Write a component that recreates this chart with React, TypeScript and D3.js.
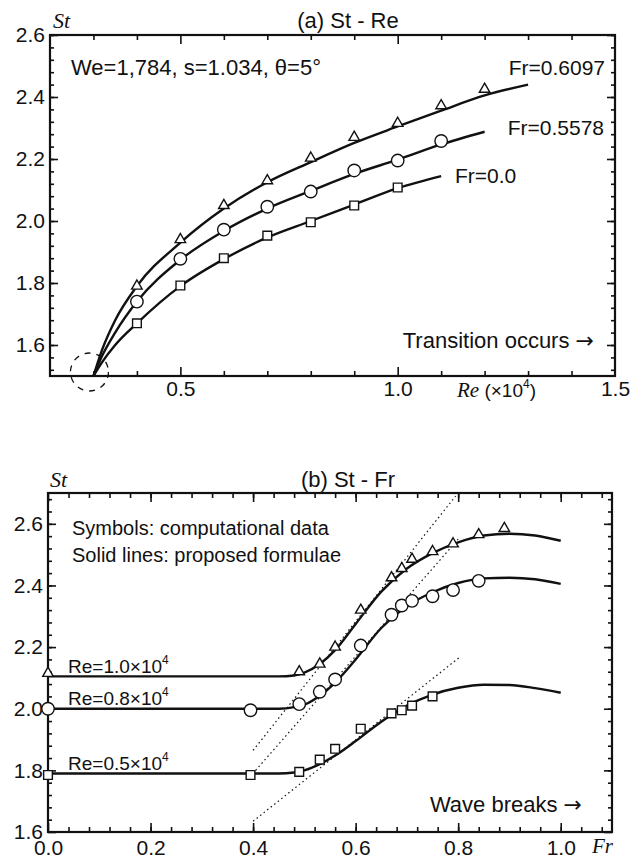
import React, { useEffect, useRef } from 'react';
import * as d3 from 'd3';

type Pt = [number, number];

// ---- (a) St - Re ----
const reMajor = [0.5, 1.0, 1.5];
const reMinor = [0.3, 0.4, 0.6, 0.7, 0.8, 0.9, 1.1, 1.2, 1.3, 1.4];
const stAMajor = [1.6, 1.8, 2.0, 2.2, 2.4, 2.6];

const triA: Pt[] = [[0.4, 1.79], [0.5, 1.94], [0.6, 2.05], [0.7, 2.13], [0.8, 2.203], [0.9, 2.27], [1.0, 2.315], [1.1, 2.372], [1.2, 2.425]];
const circA: Pt[] = [[0.4, 1.74], [0.5, 1.878], [0.6, 1.972], [0.7, 2.046], [0.8, 2.095], [0.9, 2.163], [1.0, 2.195], [1.1, 2.258]];
const sqA: Pt[] = [[0.4, 1.67], [0.5, 1.792], [0.6, 1.88], [0.7, 1.953], [0.8, 1.996], [0.9, 2.05], [1.0, 2.108]];

const fitTriA: Pt[] = [[0.3, 1.5], [0.32, 1.585], [0.35, 1.68], [0.4, 1.79], [0.5, 1.93], [0.6, 2.04], [0.7, 2.125], [0.8, 2.19], [0.9, 2.252], [1.0, 2.305], [1.1, 2.356], [1.2, 2.405], [1.3, 2.44]];
const fitCircA: Pt[] = [[0.3, 1.5], [0.32, 1.565], [0.35, 1.64], [0.4, 1.74], [0.5, 1.875], [0.6, 1.968], [0.7, 2.04], [0.8, 2.097], [0.9, 2.152], [1.0, 2.198], [1.1, 2.247], [1.2, 2.288]];
const fitSqA: Pt[] = [[0.3, 1.5], [0.32, 1.545], [0.35, 1.6], [0.4, 1.67], [0.5, 1.79], [0.6, 1.877], [0.7, 1.947], [0.8, 2.0], [0.9, 2.053], [1.0, 2.106], [1.1, 2.145]];

// ---- (b) St - Fr ----
const frMajor = [0.0, 0.2, 0.4, 0.6, 0.8, 1.0];
const stBMajor = [1.6, 1.8, 2.0, 2.2, 2.4, 2.6];

const triB: Pt[] = [[0, 2.115], [0.49, 2.12], [0.53, 2.145], [0.56, 2.2], [0.61, 2.32], [0.67, 2.425], [0.69, 2.455], [0.71, 2.485], [0.75, 2.51], [0.79, 2.535], [0.84, 2.565], [0.89, 2.585]];
const circB: Pt[] = [[0, 2.0], [0.395, 1.995], [0.49, 2.015], [0.53, 2.055], [0.56, 2.095], [0.61, 2.205], [0.67, 2.305], [0.69, 2.335], [0.71, 2.35], [0.75, 2.365], [0.79, 2.385], [0.84, 2.415]];
const sqB: Pt[] = [[0, 1.785], [0.395, 1.785], [0.49, 1.795], [0.53, 1.835], [0.56, 1.87], [0.61, 1.935], [0.67, 1.985], [0.69, 1.995], [0.71, 2.01], [0.75, 2.04]];

const fitRe10: Pt[] = [[0, 2.105], [0.45, 2.105], [0.48, 2.108], [0.5, 2.117], [0.53, 2.145], [0.56, 2.19], [0.6, 2.275], [0.65, 2.38], [0.7, 2.455], [0.75, 2.505], [0.8, 2.54], [0.85, 2.562], [0.9, 2.568], [0.95, 2.562], [1.0, 2.545]];
const fitRe08: Pt[] = [[0, 2.0], [0.45, 2.0], [0.48, 2.005], [0.5, 2.013], [0.53, 2.042], [0.56, 2.085], [0.6, 2.16], [0.65, 2.262], [0.7, 2.333], [0.75, 2.378], [0.8, 2.408], [0.85, 2.423], [0.9, 2.425], [0.95, 2.42], [1.0, 2.405]];
const fitRe05: Pt[] = [[0, 1.79], [0.45, 1.79], [0.48, 1.793], [0.5, 1.8], [0.53, 1.82], [0.56, 1.848], [0.6, 1.895], [0.65, 1.958], [0.7, 2.01], [0.75, 2.046], [0.8, 2.068], [0.85, 2.078], [0.9, 2.077], [0.95, 2.067], [1.0, 2.052]];

// dotted tangent lines
const tangents: [Pt, Pt][] = [
  [[0.40, 1.865], [0.795, 2.69]],
  [[0.405, 1.80], [0.80, 2.55]],
  [[0.40, 1.635], [0.805, 2.17]],
];

const SANS = '"Liberation Sans", Arial, Helvetica, sans-serif';
const SERIF = '"Liberation Serif", "Times New Roman", serif';
const ARROW = '"DejaVu Sans", sans-serif';

type Sel = d3.Selection<SVGGElement, unknown, null, undefined>;
type Lin = d3.ScaleLinear<number, number>;

function range(a: number, b: number, step: number) {
  const out: number[] = [];
  for (let v = a; v <= b + 1e-9; v += step) out.push(+v.toFixed(3));
  return out;
}

function drawFrame(g: Sel, x: Lin, y: Lin, xMajor: number[], xMinor: number[], yMajor: number[], yMinor: number[], xLabels: number[], xPad: number) {
  const [x0, x1] = x.range();
  const [y0, y1] = y.range();
  const fmt = d3.format('.1f');

  const style = (s: Sel) => {
    s.select('.domain').remove();
    s.selectAll('line').attr('stroke', '#111').attr('stroke-width', 1.6);
    s.selectAll('text').attr('fill', '#111').attr('font-family', SANS).attr('font-size', 21);
  };

  // minor ticks, all four sides
  g.append('g').attr('transform', `translate(0,${y0})`)
    .call(d3.axisBottom(x).tickValues(xMinor).tickSize(-5).tickFormat(() => '')).call(style);
  g.append('g').attr('transform', `translate(0,${y1})`)
    .call(d3.axisTop(x).tickValues(xMinor).tickSize(-5).tickFormat(() => '')).call(style);
  g.append('g').attr('transform', `translate(${x0},0)`)
    .call(d3.axisLeft(y).tickValues(yMinor).tickSize(-4).tickFormat(() => '')).call(style);
  g.append('g').attr('transform', `translate(${x1},0)`)
    .call(d3.axisRight(y).tickValues(yMinor).tickSize(-4).tickFormat(() => '')).call(style);

  // major ticks
  g.append('g').attr('transform', `translate(0,${y1})`)
    .call(d3.axisTop(x).tickValues(xMajor).tickSize(-9).tickFormat(() => '')).call(style);
  g.append('g').attr('transform', `translate(${x1},0)`)
    .call(d3.axisRight(y).tickValues(yMajor).tickSize(-8).tickFormat(() => '')).call(style);
  g.append('g').attr('transform', `translate(0,${y0})`)
    .call(d3.axisBottom(x).tickValues(xMajor).tickSize(-9).tickFormat(() => '')).call(style);
  g.append('g').attr('transform', `translate(0,${y0})`)
    .call(d3.axisBottom(x).tickValues(xLabels).tickSize(0).tickPadding(xPad).tickFormat(d => fmt(d as number))).call(style);
  g.append('g').attr('transform', `translate(${x0},0)`)
    .call(d3.axisLeft(y).tickValues(yMajor).tickSize(-8).tickPadding(5).tickFormat(d => fmt(d as number))).call(style);

  g.append('rect')
    .attr('x', x0).attr('y', y1)
    .attr('width', x1 - x0).attr('height', y0 - y1)
    .attr('fill', 'none').attr('stroke', '#111').attr('stroke-width', 2.2);
}

function drawMarkers(g: Sel, x: Lin, y: Lin, pts: Pt[], kind: 'tri' | 'circ' | 'sq') {
  const sym = kind === 'tri' ? d3.symbolTriangle : kind === 'sq' ? d3.symbolSquare : d3.symbolCircle;
  const size = kind === 'tri' ? 48 : kind === 'sq' ? 76 : 122;
  g.selectAll(null).data(pts).enter().append('path')
    .attr('d', d3.symbol().type(sym).size(size)())
    .attr('transform', d => `translate(${x(d[0])},${y(d[1])})`)
    .attr('fill', '#fff').attr('stroke', '#111').attr('stroke-width', 1.4);
}

function drawFit(g: Sel, x: Lin, y: Lin, pts: Pt[]) {
  const line = d3.line<Pt>().x(d => x(d[0])).y(d => y(d[1])).curve(d3.curveMonotoneX);
  g.append('path').datum(pts).attr('d', line)
    .attr('fill', 'none').attr('stroke', '#111').attr('stroke-width', 2.4);
}

function label(g: Sel, x: number, y: number, txt: string, size = 20, anchor = 'start') {
  return g.append('text').attr('x', x).attr('y', y).attr('font-family', SANS)
    .attr('font-size', size).attr('fill', '#111').attr('text-anchor', anchor).text(txt);
}

function arrowLabel(g: Sel, x: number, y: number, txt: string) {
  const t = label(g, x, y, txt + ' ', 22, 'end');
  t.append('tspan').attr('font-family', ARROW).attr('font-size', 22).text('→');
}

function reLabel(g: Sel, x: number, y: number, coef: string) {
  const t = g.append('text').attr('x', x).attr('y', y).attr('font-family', SANS)
    .attr('font-size', 19).attr('fill', '#111');
  t.append('tspan').text(`Re=${coef}×10`);
  t.append('tspan').attr('dy', -9).attr('font-size', 12).text('4');
}

const App: React.FC = () => {
  const svgRef = useRef<SVGSVGElement>(null);

  useEffect(() => {
    if (!svgRef.current) return;
    const svg = d3.select(svgRef.current);
    svg.selectAll('*').remove();
    const root = svg.append('g') as unknown as Sel;

    // ---------- (a) St - Re ----------
    const xA = d3.scaleLinear().domain([0.2, 1.5]).range([50, 615]);
    const yA = d3.scaleLinear().domain([1.5, 2.6]).range([376, 35]);
    const gA = root.append('g');

    drawFrame(gA, xA, yA, [0.5, 1.0], reMinor, stAMajor, range(1.52, 2.6, 0.04), reMajor, 5);

    drawFit(gA, xA, yA, fitTriA);
    drawFit(gA, xA, yA, fitCircA);
    drawFit(gA, xA, yA, fitSqA);
    drawMarkers(gA, xA, yA, triA, 'tri');
    drawMarkers(gA, xA, yA, circA, 'circ');
    drawMarkers(gA, xA, yA, sqA, 'sq');

    // dashed circle at the convergence point
    gA.append('circle')
      .attr('cx', xA(0.3) - 4).attr('cy', yA(1.5) - 4).attr('r', 19)
      .attr('fill', 'none').attr('stroke', '#111').attr('stroke-width', 1.3)
      .attr('stroke-dasharray', '6,6');

    gA.append('text').attr('x', 53).attr('y', 28).attr('font-family', SERIF)
      .attr('font-style', 'italic').attr('font-size', 22).attr('fill', '#111').text('St');
    label(gA, 348, 28, '(a) St - Re', 22, 'middle');
    label(gA, 71, 75, 'We=1,784, s=1.034, θ=5°', 22);
    label(gA, 605, 75, 'Fr=0.6097', 21, 'end');
    label(gA, 604, 135, 'Fr=0.5578', 21, 'end');
    label(gA, 455, 183, 'Fr=0.0', 21);
    arrowLabel(gA, 594, 348, 'Transition occurs');

    const reAx = gA.append('text').attr('x', 457).attr('y', 397).attr('font-family', SANS)
      .attr('font-size', 19).attr('fill', '#111');
    reAx.append('tspan').attr('font-family', SERIF).attr('font-style', 'italic').attr('font-size', 21).text('Re');
    reAx.append('tspan').text(' (×10');
    reAx.append('tspan').attr('dy', -9).attr('font-size', 12).text('4');
    reAx.append('tspan').attr('dy', 9).text(')');

    // ---------- (b) St - Fr ----------
    const xB = d3.scaleLinear().domain([0, 1.1]).range([48, 612]);
    const yB = d3.scaleLinear().domain([1.6, 2.7]).range([832, 493]);
    const gB = root.append('g');

    drawFrame(gB, xB, yB, frMajor, range(0.04, 1.08, 0.04), stBMajor, range(1.64, 2.68, 0.04), frMajor, 8);

    tangents.forEach(([a, b]) => {
      gB.append('line')
        .attr('x1', xB(a[0])).attr('y1', yB(a[1]))
        .attr('x2', xB(b[0])).attr('y2', yB(b[1]))
        .attr('stroke', '#111').attr('stroke-width', 1.2).attr('stroke-dasharray', '1.5,3');
    });

    drawFit(gB, xB, yB, fitRe10);
    drawFit(gB, xB, yB, fitRe08);
    drawFit(gB, xB, yB, fitRe05);
    drawMarkers(gB, xB, yB, triB, 'tri');
    drawMarkers(gB, xB, yB, circB, 'circ');
    drawMarkers(gB, xB, yB, sqB, 'sq');

    gB.append('text').attr('x', 50).attr('y', 487).attr('font-family', SERIF)
      .attr('font-style', 'italic').attr('font-size', 22).attr('fill', '#111').text('St');
    label(gB, 348, 487, '(b) St - Fr', 22, 'middle');
    label(gB, 72, 535, 'Symbols: computational data', 20);
    label(gB, 72, 562, 'Solid lines: proposed formulae', 20);
    reLabel(gB, 68, 673, '1.0');
    reLabel(gB, 68, 705, '0.8');
    reLabel(gB, 68, 770, '0.5');
    arrowLabel(gB, 582, 812, 'Wave breaks');
    gB.append('text').attr('x', 592).attr('y', 853).attr('font-family', SERIF)
      .attr('font-style', 'italic').attr('font-size', 21).attr('fill', '#111').text('Fr');
  }, []);

  return (
    <svg ref={svgRef} width={641} height={859}
      style={{ position: 'absolute', left: 0, top: 0, background: '#fff' }} />
  );
};

export default App;
